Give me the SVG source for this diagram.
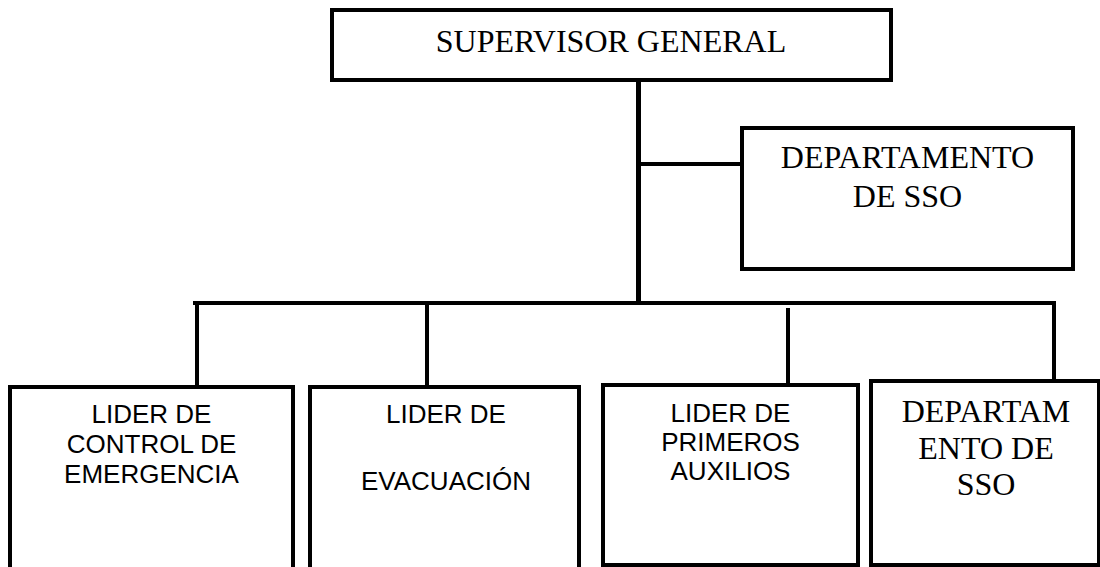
<svg xmlns="http://www.w3.org/2000/svg" width="1100" height="567" viewBox="0 0 1100 567">
<style>
.box{fill:#fff;stroke:#000;stroke-width:4}
.ln{stroke:#000;stroke-width:4;fill:none}
.tnr{font-family:"Liberation Serif","Times New Roman",serif;font-size:32px;fill:#000;text-anchor:middle}
.ar{font-family:"Liberation Sans",Arial,sans-serif;font-size:26px;fill:#000;text-anchor:middle}
</style>
<rect width="1100" height="567" fill="#fff"/>
<g id="connectors">
<line class="ln" x1="638.5" y1="80" x2="638.5" y2="303" style="stroke-width:5"/>
<line class="ln" x1="638" y1="164" x2="742" y2="164"/>
<line class="ln" x1="193" y1="303" x2="1056" y2="303"/>
<line class="ln" x1="1054" y1="301" x2="1054" y2="381"/>
<line class="ln" x1="197" y1="303" x2="197" y2="387"/>
<line class="ln" x1="427" y1="303" x2="427" y2="387"/>
<line class="ln" x1="788" y1="308" x2="788" y2="388"/>
</g>
<g id="supervisor">
<rect class="box" x="332" y="10" width="559" height="70"/>
<text class="tnr" x="611" y="52">SUPERVISOR GENERAL</text>
</g>
<g id="departamento">
<rect class="box" x="742" y="128" width="331" height="141"/>
<text class="tnr" x="907.5" y="168">DEPARTAMENTO</text>
<text class="tnr" x="907.5" y="207">DE SSO</text>
</g>
<g id="lider-control">
<rect class="box" x="10" y="387" width="283" height="200"/>
<text class="ar" x="151.5" y="423">LIDER DE</text>
<text class="ar" x="151.5" y="453">CONTROL DE</text>
<text class="ar" x="151.5" y="483">EMERGENCIA</text>
</g>
<g id="lider-evacuacion">
<rect class="box" x="310" y="387" width="269" height="200"/>
<text class="ar" x="446" y="423">LIDER DE</text>
<text class="ar" x="446" y="490">EVACUACIÓN</text>
</g>
<g id="lider-primeros">
<rect class="box" x="603" y="385" width="255" height="180"/>
<text class="ar" x="730.5" y="422">LIDER DE</text>
<text class="ar" x="730.5" y="451">PRIMEROS</text>
<text class="ar" x="730.5" y="480">AUXILIOS</text>
</g>
<g id="departamento-2">
<rect class="box" x="871" y="381" width="228" height="184"/>
<text class="tnr" x="986" y="422">DEPARTAM</text>
<text class="tnr" x="986" y="459">ENTO DE</text>
<text class="tnr" x="986" y="495">SSO</text>
</g>
</svg>
